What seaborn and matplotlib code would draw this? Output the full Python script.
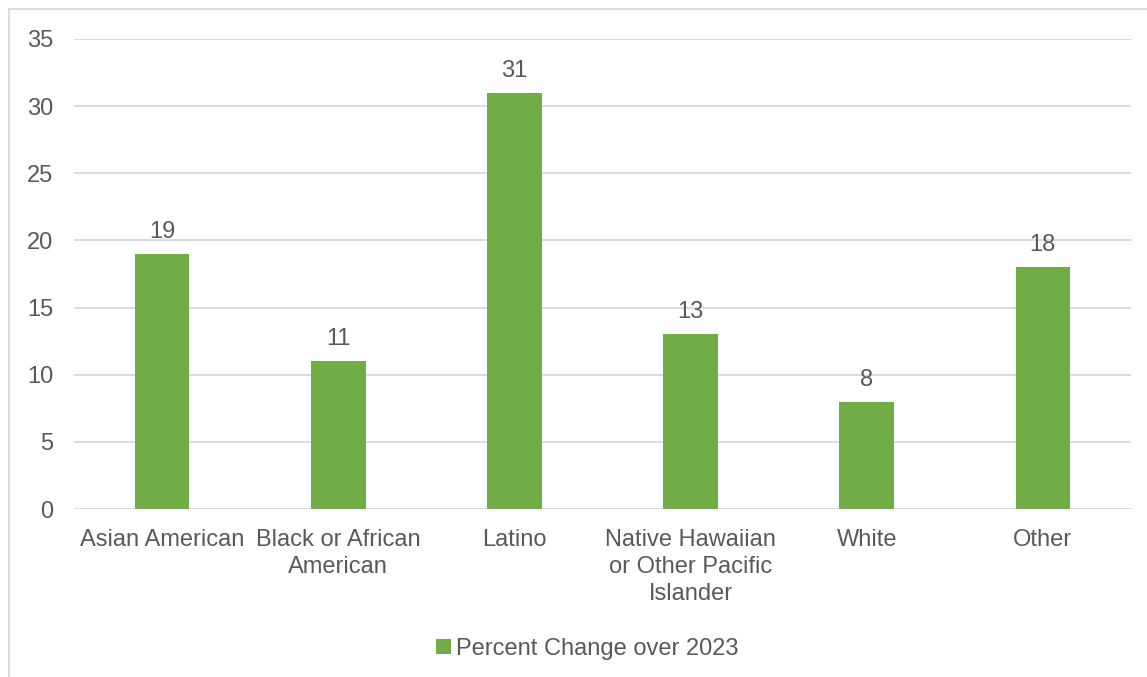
import numpy as np
import pandas as pd
import matplotlib
matplotlib.use('Agg')
import matplotlib.pyplot as plt
import seaborn as sns
from matplotlib.patches import Rectangle

groups = ['Asian American', 'Black or African\nAmerican', 'Latino',
          'Native Hawaiian\nor Other Pacific\nIslander', 'White', 'Other']
pct_change = [19, 11, 31, 13, 8, 18]
series_name = 'Percent Change over 2023'

df = pd.DataFrame({'group': groups, 'value': pct_change})

sns.set_style('white')
plt.rcParams['font.family'] = ['Liberation Sans', 'DejaVu Sans']
text_col = '#595959'
green = '#70AD47'
grid_col = '#D9D9D9'

fig = plt.figure(figsize=(11.47, 6.77), dpi=100)
ax = fig.add_axes([0.0645, 0.248, 0.9215, 0.6944])

sns.barplot(data=df, x='group', y='value', color=green, width=0.31,
            saturation=1, label=series_name, linewidth=0, ax=ax)

ax.set_ylim(0, 35)
ax.set_yticks(np.arange(0, 36, 5))
ax.yaxis.grid(True, color=grid_col, linewidth=1.3)
ax.set_axisbelow(True)
for s in ax.spines.values():
    s.set_visible(False)
ax.set_xlabel('')
ax.set_ylabel('')
ax.tick_params(axis='both', length=0, labelsize=17, colors=text_col)
ax.tick_params(axis='y', pad=15)
ax.tick_params(axis='x', pad=14)
for lbl in ax.get_xticklabels():
    lbl.set_linespacing(1.3)

for c in ax.containers:
    ax.bar_label(c, padding=8, fontsize=17, color=text_col)

leg = ax.legend(loc='upper center', bbox_to_anchor=(0.486, -0.228), frameon=False,
                fontsize=17, handlelength=0.6, handleheight=0.6, handletextpad=0.25)
for t in leg.get_texts():
    t.set_color(text_col)

fig.patches.append(Rectangle((9 / 1147, -0.1), 2, 1.1 - 9 / 677,
                             transform=fig.transFigure, fill=False,
                             edgecolor=grid_col, linewidth=1.3))

fig.savefig('out.png', dpi=100)
